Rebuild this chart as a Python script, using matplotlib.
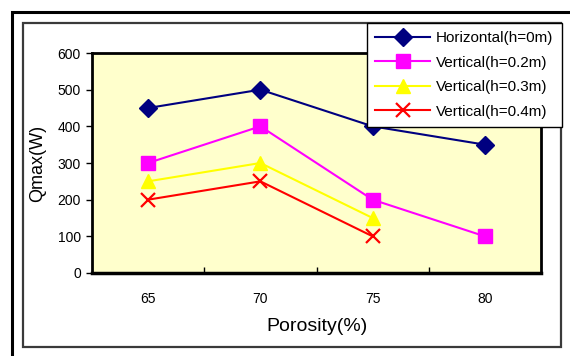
import matplotlib
matplotlib.use('Agg')
import matplotlib.pyplot as plt
from matplotlib.patches import Rectangle

plt.rcParams['font.family'] = ['Liberation Sans', 'DejaVu Sans']

# data
porosity = ['65', '70', '75', '80']
horizontal = [450, 500, 400, 350]
vert_02 = [300, 400, 200, 100]
vert_03 = [250, 300, 150]
vert_04 = [200, 250, 100]
y_ticks = [0, 100, 200, 300, 400, 500, 600]

W, H = 570, 356
fig = plt.figure(figsize=(W / 100, H / 100), dpi=100)

# outer black frame (cut off at right/bottom) and inner grey frame
fig.patches.append(Rectangle((12 / W, -0.1), 2, 1 - 12 / H + 0.1, transform=fig.transFigure,
                             fill=False, edgecolor='black', linewidth=2.2))
fig.patches.append(Rectangle((23 / W, 9 / H), (561 - 23) / W, (347 - 23) / H, transform=fig.transFigure,
                             fill=False, edgecolor='#3a3a3a', linewidth=1.6))

ax = fig.add_axes([92 / W, (H - 273) / H, (541 - 92) / W, (273 - 53) / H])
ax.set_facecolor('#FFFFCC')

x = list(range(len(porosity)))
ax.plot(x, horizontal, color='#000080', marker='D', markersize=9, linewidth=1.5,
        label='Horizontal(h=0m)')
ax.plot(x, vert_02, color='#FF00FF', marker='s', markersize=9.5, linewidth=1.5,
        label='Vertical(h=0.2m)')
ax.plot(x[:len(vert_03)], vert_03, color='#FFFF00', marker='^', markersize=10.5, linewidth=1.5,
        label='Vertical(h=0.3m)')
ax.plot(x[:len(vert_04)], vert_04, color='#FF0000', marker='x', markersize=9.5, markeredgewidth=1.6,
        linewidth=1.5, label='Vertical(h=0.4m)')

ax.set_xlim(-0.5, len(porosity) - 0.5)
ax.set_ylim(0, 600)
ax.set_yticks(y_ticks)
ax.set_xticks(x)
ax.set_xticklabels(porosity)
ax.set_xticks([i + 0.5 for i in x[:-1]], minor=True)
ax.tick_params(axis='x', which='major', length=0, pad=14, labelsize=10)
ax.tick_params(axis='x', which='minor', direction='in', length=4, width=1)
ax.tick_params(axis='y', direction='out', length=4, width=1, labelsize=10, pad=4)
for s in ax.spines.values():
    s.set_linewidth(2)
ax.spines['bottom'].set_linewidth(2.5)

ax.set_xlabel('Porosity(%)', fontsize=14, labelpad=8)
ax.set_ylabel('Qmax(W)', fontsize=13, labelpad=8)

leg = fig.legend(loc='upper left', bbox_to_anchor=(367 / W, 1 - 23 / H), fontsize=11,
                 frameon=True, fancybox=False, edgecolor='black', framealpha=1,
                 handlelength=3.6, handletextpad=0.35, labelspacing=0.68, borderpad=0.55,
                 borderaxespad=0)
leg.get_frame().set_linewidth(1)

fig.savefig('out.png', dpi=100)
